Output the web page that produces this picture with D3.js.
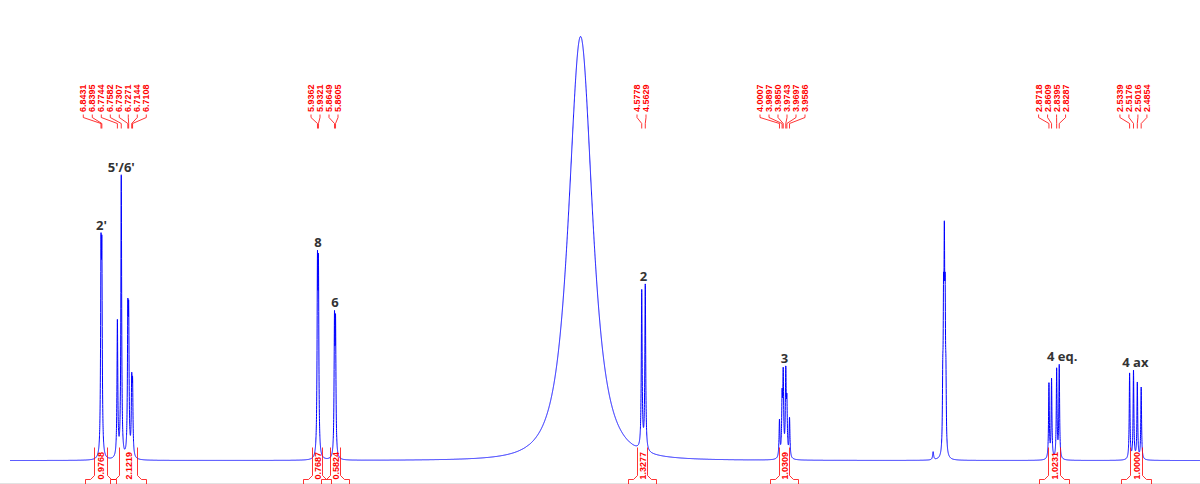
<!DOCTYPE html>
<html>
<head>
<meta charset="utf-8">
<script src="https://cdn.jsdelivr.net/npm/d3@7"></script>
<style>
  html, body { margin: 0; padding: 0; background: #fff; }
  svg { display: block; }
</style>
</head>
<body>
<svg id="chart" width="1200" height="484"></svg>
<script>
// 1H NMR (500 MHz, CD3OD) — resonance lines: shift (ppm), intensity,
// line width (ppm) and Pearson VII shape exponent (1 = pure Lorentzian)
const lineShifts = [
  6.8431, 6.8395,                                   // H-2'
  6.7744, 6.7582, 6.7307, 6.7271, 6.7144, 6.7108,   // H-5' / H-6'
  5.9362, 5.9321,                                   // H-8
  5.8649, 5.8605,                                   // H-6
  4.8340,                                           // HDO
  4.5778, 4.5629,                                   // H-2
  4.0007, 3.9897, 3.9850, 3.9743, 3.9697, 3.9586,   // H-3
  3.3570,
  3.3166, 3.3133, 3.3100, 3.3067, 3.3034,           // CHD2OD
  2.8718, 2.8609, 2.8395, 2.8287,                   // H-4 eq
  2.5339, 2.5176, 2.5016, 2.4854                    // H-4 ax
];
const lineHeights = [
  183, 180,
  136, 282, 128, 125, 67, 64,
  176, 172,
  128, 124,
  424,
  158, 165,
  37, 55, 79, 81, 49, 39,
  8,
  59, 125, 177, 125, 59,
  75, 79, 89, 93,
  86, 88, 76, 72
];
const lineWidths = [
  0.0040, 0.0040,
  0.0040, 0.0040, 0.0040, 0.0040, 0.0040, 0.0040,
  0.0040, 0.0040,
  0.0040, 0.0040,
  0.1173,
  0.0042, 0.0042,
  0.0042, 0.0042, 0.0042, 0.0042, 0.0042, 0.0042,
  0.0050,
  0.0035, 0.0035, 0.0035, 0.0035, 0.0035,
  0.0038, 0.0038, 0.0038, 0.0038,
  0.0038, 0.0038, 0.0038, 0.0038
];
const lineShapes = [
  1, 1,
  1, 1, 1, 1, 1, 1,
  1, 1,
  1, 1,
  1.5,
  1, 1,
  1, 1, 1, 1, 1, 1,
  1,
  1, 1, 1, 1, 1,
  1, 1, 1, 1,
  1, 1, 1, 1
];

// peak-picking labels, one list per multiplet
const pickedGroups = [
  ["6.8431", "6.8395", "6.7744", "6.7582", "6.7307", "6.7271", "6.7144", "6.7108"],
  ["5.9362", "5.9321", "5.8649", "5.8605"],
  ["4.5778", "4.5629"],
  ["4.0007", "3.9897", "3.9850", "3.9743", "3.9697", "3.9586"],
  ["2.8718", "2.8609", "2.8395", "2.8287"],
  ["2.5339", "2.5176", "2.5016", "2.4854"]
];

// integral regions (ppm) and normalised areas
const integralFrom   = [6.871, 6.766, 5.960, 5.884, 4.599, 4.003, 2.876, 2.532];
const integralTo     = [6.819, 6.691, 5.919, 5.842, 4.557, 3.961, 2.826, 2.482];
const integralValues = ["0.9768", "2.1219", "0.7687", "0.5824", "1.3277", "1.0309", "1.0231", "1.0000"];

// proton assignments and the shift each label sits over
const assignText  = ["2'", "5'/6'", "8", "6", "2", "3", "4 eq.", "4 ax"];
const assignShift = [6.8413, 6.7582, 5.9341, 5.8627, 4.5703, 3.9800, 2.8160, 2.5097];

const W = 1200, H = 484;
const svg = d3.select("#chart");

const x = d3.scaleLinear().domain([7.2243, 2.2390]).range([10, 1200]);
const y = d3.scaleLinear().domain([0, 430]).range([460.5, 30.5]);

// sum of all line shapes at a given shift
function intensity(ppm) {
  let s = 0;
  for (let i = 0; i < lineShifts.length; i++) {
    const m = lineShapes[i];
    const d = 2 * (ppm - lineShifts[i]) / lineWidths[i];
    const k = m === 1 ? 1 : Math.pow(2, 1 / m) - 1;
    s += lineHeights[i] / Math.pow(1 + k * d * d, m);
  }
  return s;
}

const [p0, p1] = x.domain();
const step = 0.0002;
const spectrum = [];
for (let p = p0; p >= p1 - 1e-9; p -= step) spectrum.push([p, intensity(p)]);
// make sure each line's apex is sampled
lineShifts.forEach(s => spectrum.push([s, intensity(s)]));
spectrum.sort((a, b) => b[0] - a[0]);

// faint frame line along the bottom
svg.append("line")
  .attr("x1", 0).attr("x2", W)
  .attr("y1", 483.5).attr("y2", 483.5)
  .attr("stroke", "#e2e2e2").attr("stroke-width", 1);

svg.append("path")
  .datum(spectrum)
  .attr("fill", "none")
  .attr("stroke", "#0000ff")
  .attr("stroke-width", 1)
  .attr("stroke-linejoin", "round")
  .attr("d", d3.line().x(d => x(d[0])).y(d => y(d[1])));

const red = "#ff0000";
const labelFont = "'Liberation Sans', Arial, sans-serif";

// peak-picking labels with leader lines
const spacing = 9;
pickedGroups.forEach(group => {
  const vals = group.map(Number);
  const cx = (x(d3.max(vals)) + x(d3.min(vals))) / 2 - 2;
  group.forEach((label, i) => {
    const lx = cx + (i - (group.length - 1) / 2) * spacing;
    const px = x(+label);
    svg.append("text")
      .attr("transform", `translate(${lx},112) rotate(-90)`)
      .attr("dy", "0.35em")
      .attr("font-family", labelFont)
      .attr("font-weight", 700)
      .attr("font-size", 9)
      .attr("fill", red)
      .text(label);
    svg.append("path")
      .attr("d", `M${lx},114.5V117.5L${px},123.5V128.5`)
      .attr("fill", "none")
      .attr("stroke", red)
      .attr("stroke-width", 0.8);
  });
});

// integrals below the baseline
integralValues.forEach((v, i) => {
  const xl = Math.round(x(integralFrom[i])) + 0.5;
  const xr = Math.round(x(integralTo[i])) + 0.5;
  const cx = (xl + xr) / 2;
  svg.append("path")
    .attr("d", `M${xl - 9},484V479.5H${xl - 4}L${xl},475.5V447.5` +
               `M${xr},447.5V475.5L${xr + 4},479.5H${xr + 9}V484`)
    .attr("fill", "none")
    .attr("stroke", red)
    .attr("stroke-width", 0.8);
  svg.append("text")
    .attr("transform", `translate(${cx},479.5) rotate(-90)`)
    .attr("dy", "0.35em")
    .attr("font-family", labelFont)
    .attr("font-weight", 700)
    .attr("font-size", 9)
    .attr("fill", red)
    .text(v);
});

// assignment labels above their multiplets
assignText.forEach((t, i) => {
  const s = assignShift[i];
  const top = d3.max(spectrum.filter(d => Math.abs(d[0] - s) < 0.05), d => d[1]);
  svg.append("text")
    .attr("x", x(s))
    .attr("y", y(top) - 3)
    .attr("text-anchor", "middle")
    .attr("font-family", "'Open Sans', sans-serif")
    .attr("font-weight", 700)
    .attr("font-size", 13)
    .attr("fill", "#333")
    .text(t);
});
</script>
</body>
</html>
